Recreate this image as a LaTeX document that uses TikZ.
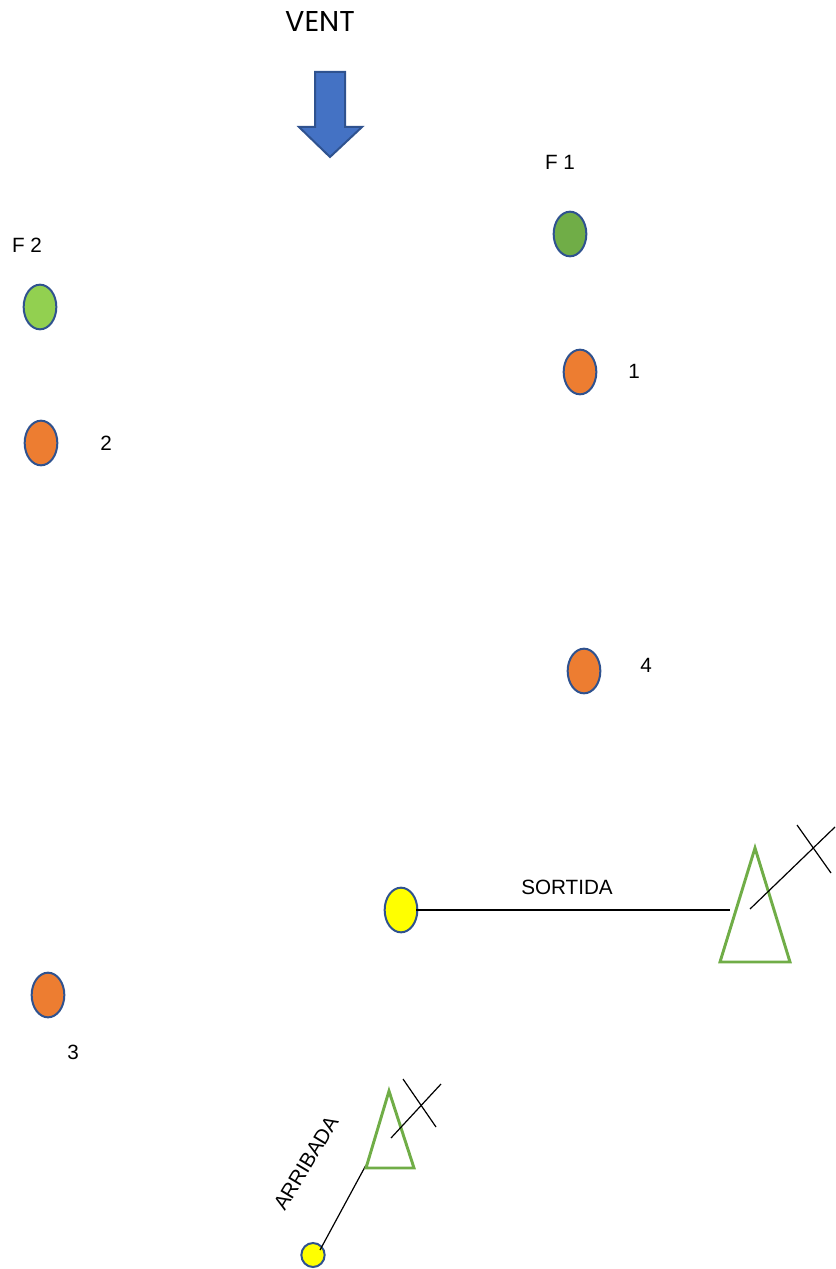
\documentclass[tikz,border=0pt]{standalone}
\usepackage{fontspec}
\setmainfont{Liberation Sans}
\newfontfamily\ventfont{Poppins}
\usetikzlibrary{shapes.geometric}
\definecolor{edgeblue}{HTML}{2F528F}
\definecolor{arrowblue}{HTML}{4472C4}
\definecolor{orangefill}{HTML}{ED7D31}
\definecolor{darkgreen}{HTML}{70AD47}
\definecolor{lightgreen}{HTML}{92D050}
\definecolor{yellowfill}{HTML}{FFFF00}
\begin{document}
\begin{tikzpicture}[x=0.75pt,y=-0.75pt]
\useasboundingbox (0,0) rectangle (835,1269);
\tikzset{
 buoy/.style={ellipse, draw=edgeblue, line width=1.5pt, minimum width=24.5pt, minimum height=33.5pt, inner sep=0pt},
 lbl/.style={font=\fontsize{15.5}{18}\selectfont, inner sep=0pt},
 boat/.style={draw=darkgreen, line width=2.2pt, line join=miter},
 thinline/.style={line width=0.9pt, black}
}
% wind
\node[font=\ventfont\fontsize{21.5}{25}\selectfont, inner sep=0pt] (vent) at (320,22) {VENT};
\draw[fill=arrowblue, draw=edgeblue, line width=1.5pt, line join=miter]
  (315,72) -- (345,72) -- (345,127) -- (362,127) -- (330,157) -- (299,127) -- (315,127) -- cycle;
% flags
\node[lbl] (f1) at (560,162) {F 1};
\node[buoy, fill=darkgreen] (g1) at (570,234) {};
\node[lbl] (f2) at (27,245) {F 2};
\node[buoy, fill=lightgreen] (g2) at (40,307) {};
% marks
\node[buoy, fill=orangefill] (m1) at (580,372) {};
\node[lbl] (l1) at (634,371) {1};
\node[buoy, fill=orangefill] (m2) at (41,443) {};
\node[lbl] (l2) at (106,443) {2};
\node[buoy, fill=orangefill] (m4) at (584,671) {};
\node[lbl] (l4) at (646,665) {4};
\node[buoy, fill=orangefill] (m3) at (48,995) {};
\node[lbl] (l3) at (73,1052) {3};
% start
\node[buoy, fill=yellowfill] (ys) at (401,910) {};
\coordinate (bs) at (730,910);
\draw[thinline] (ys.center) ++(15,0) -- (bs);
\node[lbl] (sortida) at (567,887) {SORTIDA};
\draw[boat] (755,848) -- (790,962) -- (720,962) -- cycle;
\coordinate (sa) at (750,909);
\coordinate (sb) at (835,827);
\coordinate (sc) at (797,825);
\coordinate (sd) at (831,873);
\draw[thinline] (sa) -- (sb);
\draw[thinline] (sc) -- (sd);
% finish
\node[ellipse, draw=edgeblue, line width=1.5pt, fill=yellowfill, minimum width=17.5pt, minimum height=18pt, inner sep=0pt] (yf) at (313,1255) {};
\coordinate (bf) at (366,1165);
\draw[thinline] (320,1250) -- (bf);
\draw[boat] (389,1091) -- (414,1168) -- (366,1168) -- cycle;
\coordinate (fa) at (391,1138);
\coordinate (fb) at (441,1084);
\coordinate (fc) at (403,1079);
\coordinate (fd) at (436,1127);
\draw[thinline] (fa) -- (fb);
\draw[thinline] (fc) -- (fd);
\node[lbl, rotate=59] (arribada) at (306,1163) {ARRIBADA};
\end{tikzpicture}
\end{document}
